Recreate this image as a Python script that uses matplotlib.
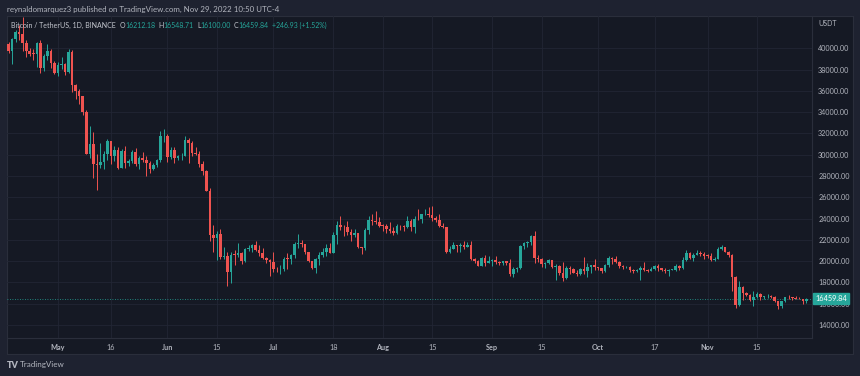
import datetime as dt
import numpy as np
import matplotlib
matplotlib.use("Agg")
import matplotlib.pyplot as plt
import matplotlib.dates as mdates

plt.rcParams['font.family'] = ['Lato', 'DejaVu Sans']

W, H = 860, 376

# colours
BG_OUT = '#1e2230'
BG_PANEL = '#151924'
GRID = '#222634'
BORDER = '#2a2e3b'
TXT = '#b2b5be'
UP = '#26a69a'
DOWN = '#ef5350'

# daily BTC/USDT candles, Apr 17 .. Nov 29 2022 (open = previous close)
start = dt.date(2022, 4, 17)
first_open = 40424

close = [
    39716, 40827, 41503, 41375, 40527, 39741, 39479, 39470, 40458, 38118, 39241, 39773, 38610, 37630,
    38469, 38525, 37728, 39690, 36552, 36013, 35472, 34038, 30076, 31017, 29104, 29030, 29287, 30081, 31328, 29874,
    30425, 28715, 30319, 29201, 29445, 30293, 29109, 29655, 29543, 29202, 28628, 29031, 29468, 31734, 31801,
    29805, 30452, 29700, 29864, 29920, 31373, 31125, 30204, 30110, 29091, 28424, 26575, 22487, 22136, 22583,
    20401, 20468, 18970, 20574, 20573, 20719, 19970, 21110, 21237, 21492, 21038, 20742, 20281, 20123, 19942,
    19279, 19243, 19297, 20232, 20190, 20548, 21637, 21732, 21592, 20860, 19970, 19323, 20212, 20570, 20836,
    21190, 20779, 22485, 23389, 23231, 23164, 22714, 22466, 22609, 21361, 21239, 22930, 23843, 23804, 23656, 23336,
    23314, 22978, 22846, 22630, 23313, 23264, 23175, 23809, 23164, 23954, 23934, 24403, 24441, 24305, 24094,
    23854, 23342, 23191, 20834, 21140, 21517, 21416, 21516, 21368, 21560, 20241, 20037, 19555, 20285, 19811, 20050,
    20131, 19951, 19831, 19986, 19812, 18837, 19290, 19329, 21381, 21680, 21769, 22370, 20296, 20241, 19701,
    19803, 20113, 19417, 19537, 18875, 18461, 19401, 19288, 18920, 18807, 19227, 19079, 19412, 19591, 19423,
    19311, 19057, 19630, 20337, 20158, 19961, 19530, 19417, 19439, 19131, 19060, 19155, 19375, 19176, 19068,
    19268, 19550, 19334, 19139, 19053, 19172, 19208, 19567, 19345, 20095, 20771, 20295, 20591, 20809, 20627, 20491,
    20483, 20151, 20207, 21148, 21300, 20905, 20591, 18541, 15880, 17587, 17034, 16800, 16354, 16619, 16900,
    16662, 16692, 16700, 16633, 16280, 15781, 16227, 16603, 16598, 16522, 16458, 16428, 16212, 16459.84,
]
high = [
    40620, 41000, 41760, 42200, 42976, 40799, 39980, 39940, 40616, 40797, 39474, 40372, 39923, 38795,
    38680, 39167, 38650, 39974, 39845, 36648, 36130, 35510, 34243, 32659, 32162, 30033, 31083, 30343, 31460, 31328,
    30788, 30696, 30545, 30777, 29600, 30487, 30672, 29845, 30223, 29865, 29385, 29250, 29560, 32222, 32399,
    31982, 30690, 30690, 29945, 30170, 31765, 31556, 31330, 30700, 30385, 29440, 28549, 26883, 23362, 22800,
    22980, 21365, 20815, 20815, 21090, 21723, 20873, 21209, 21529, 21614, 21868, 21520, 21200, 20433, 20180,
    20876, 19420, 19654, 20354, 20738, 20676, 21838, 22527, 21954, 21610, 20876, 20047, 20260, 20900, 21200,
    21580, 21684, 22777, 23800, 24276, 23430, 23756, 22980, 22998, 22650, 21361, 23100, 24199, 24442, 24668, 24194,
    23509, 23467, 23647, 23229, 23450, 23354, 23400, 24245, 23925, 24226, 24918, 24458, 24888, 25047, 25211,
    24247, 24446, 23600, 23208, 21382, 21800, 21523, 21684, 21900, 21819, 21886, 20340, 20141, 20420, 20575, 20490,
    20208, 20445, 20055, 19999, 20058, 20180, 19464, 19450, 21500, 21800, 21860, 22488, 22799, 20558, 20330,
    19890, 20189, 20117, 19689, 19634, 19956, 19500, 19498, 19310, 19180, 19315, 20385, 19790, 19645, 20185,
    19484, 19395, 19719, 20475, 20365, 20456, 20058, 19620, 19560, 19525, 19268, 19225, 19513, 19951, 19227,
    19424, 19676, 19706, 19347, 19345, 19250, 19257, 19695, 19601, 20400, 21020, 20875, 20750, 21085, 20932, 20840,
    20700, 20800, 20394, 21302, 21480, 21368, 20990, 20700, 18587, 18155, 17650, 17064, 16880, 17190, 17134,
    16990, 16725, 16868, 16820, 16755, 16300, 16270, 16650, 16812, 16600, 16700, 16600, 16482, 16548.71,
]
low = [
    39546, 38536, 40570, 40820, 39751, 39177, 39285, 38930, 38200, 37702, 37881, 38881, 38175, 37579,
    37386, 38053, 37518, 37670, 35857, 35258, 34785, 33714, 30033, 29730, 27785, 26700, 28751, 28630, 29480, 29087,
    29450, 28654, 28708, 28731, 28947, 29240, 28894, 28669, 29294, 28019, 28282, 28550, 28843, 29300, 31200,
    29311, 29588, 29250, 29485, 29525, 29890, 29219, 29860, 29941, 28850, 28100, 26560, 21925, 20846, 20111,
    20232, 20246, 17622, 17960, 19637, 20348, 19770, 19890, 20920, 20906, 20950, 20510, 20188, 19848, 18626,
    19000, 18978, 18782, 19050, 19305, 19761, 20257, 21191, 21338, 20652, 19900, 19250, 18910, 19617, 20391,
    20478, 20762, 20763, 21581, 22906, 22341, 22500, 21934, 22262, 21250, 20706, 21042, 22582, 23414, 23502, 23227,
    22850, 22654, 22681, 22435, 22587, 22912, 22850, 23154, 22865, 22664, 23852, 23570, 24292, 24144, 23773,
    23671, 23180, 23100, 20783, 20761, 21105, 20890, 20890, 21155, 21310, 20107, 19800, 19520, 19550, 19540, 19800,
    19565, 19753, 19655, 19600, 19633, 18650, 18510, 19000, 19297, 21110, 21350, 21538, 19860, 19963, 19497,
    19320, 19748, 19335, 18232, 18711, 18126, 18356, 18805, 18861, 18629, 18681, 18816, 18471, 18843, 19155,
    19159, 18920, 18959, 19497, 19730, 19853, 19320, 19255, 19320, 19020, 18860, 18965, 18190, 19070, 18975,
    19063, 19160, 19097, 19070, 18900, 18650, 19127, 19068, 19157, 19240, 20060, 20202, 20000, 20548, 20510, 20237,
    20335, 20048, 20031, 20180, 21080, 20880, 20386, 17166, 15588, 15750, 16362, 16730, 16232, 15815, 16526,
    16360, 16402, 16560, 16546, 16180, 15476, 15632, 16160, 16460, 16330, 16400, 16400, 15995, 16100,
]

last_price = 16459.84
price_ticks = list(range(14000, 40001, 2000))
tick_dates = [(5, 1), (5, 16), (6, 1), (6, 15), (7, 1), (7, 18), (8, 1), (8, 15),
              (9, 1), (9, 15), (10, 1), (10, 17), (11, 1), (11, 15)]
tick_labels = ['May', '16', 'Jun', '15', 'Jul', '18', 'Aug', '15', 'Sep', '15', 'Oct', '17', 'Nov', '15']

header = 'reynaldomarquez3 published on TradingView.com, Nov 29, 2022 10:50 UTC-4'
legend_pieces = [('Bitcoin / TetherUS, 1D, BINANCE', '#c3c6ce', 4),
                 ('O', '#c3c6ce', 0), ('16212.18', UP, 3),
                 ('H', '#c3c6ce', 0), ('16548.71', UP, 3),
                 ('L', '#c3c6ce', 0), ('16100.00', UP, 3),
                 ('C', '#c3c6ce', 0), ('16459.84', UP, 3),
                 ('+246.93 (+1.52%)', UP, 0)]

# ------------------------------------------------------------------
dates = [start + dt.timedelta(days=i) for i in range(len(close))]
x = mdates.date2num(dates)
c = np.array(close, dtype=float)
o = np.concatenate([[first_open], c[:-1]])
hi = np.maximum(np.array(high, dtype=float), np.maximum(o, c))
lo = np.minimum(np.array(low, dtype=float), np.minimum(o, c))

fig = plt.figure(figsize=(W / 100, H / 100), dpi=100, facecolor=BG_OUT)

def fx(px):
    return px / W

def fy(py):
    return 1 - py / H

# panel background (plot + price axis + time axis)
bg = fig.add_axes([fx(7), fy(354), fx(853) - fx(7), fy(16) - fy(354)])
bg.set_facecolor(BG_PANEL)
bg.set_xticks([])
bg.set_yticks([])
for s in bg.spines.values():
    s.set_color(BORDER)
    s.set_linewidth(0.8)

ax = fig.add_axes([fx(7), fy(338), fx(812) - fx(7), fy(16) - fy(338)])
ax.patch.set_alpha(0)

cols = np.where(c >= o, UP, DOWN)
body_h = np.where(np.abs(c - o) < 60, 60, np.abs(c - o))
ax.vlines(x, lo, hi, colors=cols, linewidth=0.7, zorder=2)
ax.bar(x, body_h, bottom=np.minimum(o, c), width=0.72, color=cols, linewidth=0, zorder=3)

# last price dotted line
ax.axhline(last_price, color=UP, linewidth=0.6, linestyle=(0, (1, 2)), zorder=1)

ax.set_xlim(mdates.date2num(dt.date(2022, 5, 1)) - 14.45,
            mdates.date2num(dt.date(2022, 5, 1)) + 213.6)
ax.set_ylim(12780, 43030)

ax.set_xticks([mdates.date2num(dt.date(2022, m, d)) for m, d in tick_dates])
ax.set_xticklabels(tick_labels)
ax.set_yticks(price_ticks)
ax.set_yticklabels(['%d.00' % p for p in price_ticks])
ax.yaxis.tick_right()
ax.tick_params(axis='y', length=0, pad=4.5, labelsize=5.2, labelcolor=TXT)
ax.tick_params(axis='x', length=0, pad=4.0, labelsize=5.2, labelcolor=TXT)
for lab in ax.get_xticklabels():
    if not lab.get_text().isdigit():
        lab.set_fontweight('bold')
ax.grid(True, color=GRID, linewidth=0.6, zorder=0)
ax.set_axisbelow(True)
for s in ['top', 'left']:
    ax.spines[s].set_visible(False)
ax.spines['right'].set_color(BORDER)
ax.spines['bottom'].set_color(BORDER)
ax.spines['right'].set_linewidth(0.8)
ax.spines['bottom'].set_linewidth(0.8)

# header texts
fig.text(fx(7), fy(9), header, color=TXT, fontsize=5.7, va='center', ha='left')

renderer = fig.canvas.get_renderer()
xp = 11
for s, col, gap in legend_pieces:
    t = fig.text(fx(xp), fy(25), s, color=col, fontsize=5.0, va='center', ha='left')
    xp += t.get_window_extent(renderer=renderer).width + gap

fig.text(fx(818), fy(24), 'USDT', color=TXT, fontsize=5.0, va='center', ha='left')

# last price tag on the price axis
py = 325 - (last_price - 14000) / 2000 * 21.3
fig.text(fx(815), fy(py), '%.2f' % last_price, color='white', fontsize=5.3,
         va='center', ha='left', zorder=10,
         bbox=dict(boxstyle='square,pad=0.25', fc=UP, ec=UP))

# TradingView footer
fig.text(fx(7), fy(365), 'TV', color=TXT, fontsize=6.5, fontweight='heavy', va='center', ha='left')
fig.text(fx(20), fy(365), 'TradingView', color=TXT, fontsize=5.8, va='center', ha='left')

fig.savefig('out.png', dpi=100, facecolor=BG_OUT)
